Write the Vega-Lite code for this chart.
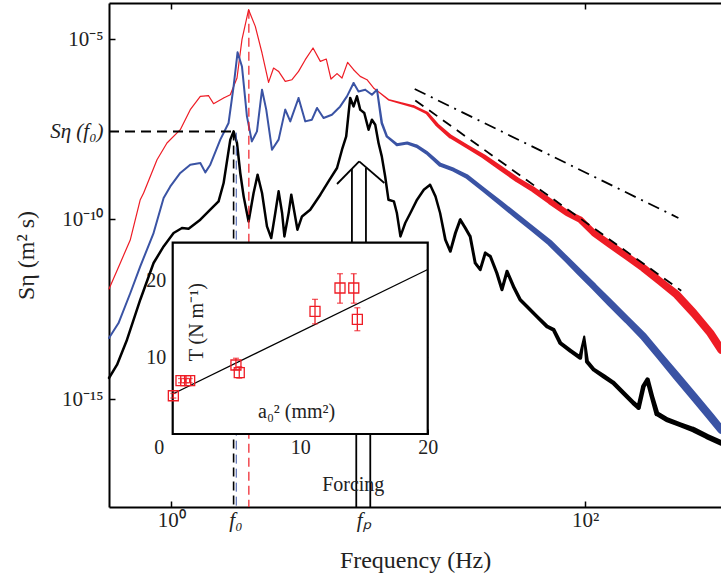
{
  "$schema": "https://vega.github.io/schema/vega-lite/v6.json",
  "width": 612,
  "height": 504,
  "autosize": {"type": "none"},
  "padding": {"left": 109, "top": 3, "right": 0, "bottom": 73},
  "background": "white",
  "config": {
    "font": "Liberation Serif",
    "view": {"stroke": null},
    "axis": {"labelFont": "Liberation Serif", "titleFont": "Liberation Serif", "labelColor": "#222", "titleColor": "#222", "tickColor": "black", "domainColor": "black", "grid": false, "titleFontWeight": "normal", "labelFlush": false, "labelOverlap": false}
  },
  "datasets": {
    "spectra": [
      {"s":"red","f":0.5,"S":1.14e-12,"w":1.2},{"s":"red","f":0.567,"S":6.0e-12,"w":1.2},{"s":"red","f":0.634,"S":2.66e-11,"w":1.2},{"s":"red","f":0.708,"S":3.44e-10,"w":1.2},{"s":"red","f":0.735,"S":5.27e-10,"w":1.2},{"s":"red","f":0.853,"S":4.44e-9,"w":1.2},{"s":"red","f":0.953,"S":1.29e-8,"w":1.2},{"s":"red","f":1.105,"S":3.03e-8,"w":1.2},{"s":"red","f":1.235,"S":1.09e-7,"w":1.2},{"s":"red","f":1.381,"S":2.55e-7,"w":1.2},{"s":"red","f":1.514,"S":2.66e-7,"w":1.2},{"s":"red","f":1.6,"S":1.6e-7,"w":1.2},{"s":"red","f":1.79,"S":2.3e-7,"w":1.2},{"s":"red","f":1.928,"S":2.84e-7,"w":1.2},{"s":"red","f":2.077,"S":8.26e-7,"w":1.2},{"s":"red","f":2.195,"S":9.57e-6,"w":1.2},{"s":"red","f":2.363,"S":6.52e-5,"w":1.2},{"s":"red","f":2.546,"S":2.24e-5,"w":1.2},{"s":"red","f":2.744,"S":4.08e-6,"w":1.2},{"s":"red","f":2.951,"S":6.23e-7,"w":1.2},{"s":"red","f":3.12,"S":1.56e-6,"w":1.2},{"s":"red","f":3.3,"S":1.26e-6,"w":1.2},{"s":"red","f":3.553,"S":6.64e-7,"w":1.2},{"s":"red","f":3.83,"S":7.4e-7,"w":1.2},{"s":"red","f":4.12,"S":1.26e-6,"w":1.2},{"s":"red","f":4.44,"S":2.66e-6,"w":1.2},{"s":"red","f":4.84,"S":5.62e-6,"w":1.2},{"s":"red","f":5.25,"S":2.39e-6,"w":1.2},{"s":"red","f":5.61,"S":2.78e-6,"w":1.2},{"s":"red","f":5.91,"S":7.74e-7,"w":1.2},{"s":"red","f":6.32,"S":1.09e-6,"w":1.2},{"s":"red","f":6.68,"S":8.26e-7,"w":1.2},{"s":"red","f":7.11,"S":2.24e-6,"w":1.2},{"s":"red","f":7.6,"S":1.4e-6,"w":1.2},{"s":"red","f":8.18,"S":9.14e-7,"w":1.2},{"s":"red","f":8.82,"S":7.4e-7,"w":1.2},{"s":"red","f":9.49,"S":4.36e-7,"w":1.2},{"s":"red","f":10.2,"S":3.16e-7,"w":1.3},{"s":"red","f":11.2,"S":2.06e-7,"w":1.5},{"s":"red","f":12.8,"S":1.67e-7,"w":2},{"s":"red","f":14.8,"S":1.34e-7,"w":2.5},{"s":"red","f":17.2,"S":8.8e-8,"w":3},{"s":"red","f":19.2,"S":4.16e-8,"w":3.5},{"s":"red","f":22.3,"S":1.97e-8,"w":4},{"s":"red","f":26.8,"S":1.04e-8,"w":4},{"s":"red","f":32.3,"S":5.48e-9,"w":4.5},{"s":"red","f":38.9,"S":2.61e-9,"w":5},{"s":"red","f":46.8,"S":1.24e-9,"w":5},{"s":"red","f":56.3,"S":6.52e-10,"w":5.5},{"s":"red","f":67.7,"S":3.08e-10,"w":6},{"s":"red","f":81.6,"S":1.47e-10,"w":6},{"s":"red","f":94.6,"S":9.57e-11,"w":6.5},{"s":"red","f":110,"S":4.08e-11,"w":6.5},{"s":"red","f":132,"S":1.93e-11,"w":7},{"s":"red","f":159,"S":9.14e-12,"w":7},{"s":"red","f":191,"S":4.36e-12,"w":7.5},{"s":"red","f":230,"S":1.85e-12,"w":7.5},{"s":"red","f":277,"S":7.89e-13,"w":8},{"s":"red","f":334,"S":2.45e-13,"w":8},{"s":"red","f":402,"S":6.81e-14,"w":8},{"s":"red","f":454,"S":2.34e-14,"w":8},
      {"s":"blue","f":0.5,"S":4.94e-14,"w":2},{"s":"blue","f":0.556,"S":1.29e-13,"w":2},{"s":"blue","f":0.634,"S":8.8e-13,"w":2},{"s":"blue","f":0.708,"S":4.82e-12,"w":2},{"s":"blue","f":0.821,"S":4.08e-11,"w":2},{"s":"blue","f":0.918,"S":3.83e-10,"w":2},{"s":"blue","f":0.989,"S":8.05e-10,"w":2},{"s":"blue","f":1.105,"S":1.9e-9,"w":2},{"s":"blue","f":1.235,"S":3.22e-9,"w":2},{"s":"blue","f":1.381,"S":3.6e-9,"w":2},{"s":"blue","f":1.46,"S":1.97e-9,"w":2},{"s":"blue","f":1.543,"S":3.22e-9,"w":2},{"s":"blue","f":1.725,"S":1.6e-8,"w":2},{"s":"blue","f":1.891,"S":4.64e-8,"w":2},{"s":"blue","f":2.0,"S":4.82e-7,"w":2},{"s":"blue","f":2.09,"S":4.25e-6,"w":2},{"s":"blue","f":2.195,"S":1.73e-6,"w":2},{"s":"blue","f":2.32,"S":7.08e-8,"w":2},{"s":"blue","f":2.45,"S":1.43e-8,"w":2},{"s":"blue","f":2.594,"S":2.71e-8,"w":2},{"s":"blue","f":2.744,"S":3.91e-7,"w":2},{"s":"blue","f":2.876,"S":1.09e-7,"w":2},{"s":"blue","f":3.065,"S":8.41e-9,"w":2},{"s":"blue","f":3.3,"S":1.6e-8,"w":2},{"s":"blue","f":3.553,"S":1.09e-7,"w":2},{"s":"blue","f":3.757,"S":5.14e-8,"w":2},{"s":"blue","f":4.12,"S":2.3e-7,"w":2},{"s":"blue","f":4.44,"S":5.14e-8,"w":2},{"s":"blue","f":4.78,"S":5.73e-8,"w":2},{"s":"blue","f":5.06,"S":1.21e-7,"w":2},{"s":"blue","f":5.44,"S":6.4e-8,"w":2},{"s":"blue","f":5.97,"S":7.89e-8,"w":2},{"s":"blue","f":6.55,"S":1.34e-7,"w":2},{"s":"blue","f":7.06,"S":2.55e-7,"w":2},{"s":"blue","f":7.6,"S":6.0e-7,"w":2},{"s":"blue","f":8.03,"S":3.5e-7,"w":2},{"s":"blue","f":8.65,"S":3.91e-7,"w":2},{"s":"blue","f":9.32,"S":2.84e-7,"w":2},{"s":"blue","f":9.86,"S":3.91e-7,"w":2},{"s":"blue","f":10.4,"S":4.64e-8,"w":2.5},{"s":"blue","f":11.0,"S":1.97e-8,"w":2.5},{"s":"blue","f":12.3,"S":1.16e-8,"w":3},{"s":"blue","f":13.8,"S":1.29e-8,"w":3},{"s":"blue","f":15.4,"S":1.04e-8,"w":3.5},{"s":"blue","f":17.2,"S":6.81e-9,"w":3.5},{"s":"blue","f":19.9,"S":3.22e-9,"w":4},{"s":"blue","f":23.1,"S":2.34e-9,"w":4},{"s":"blue","f":26.8,"S":1.52e-9,"w":4.5},{"s":"blue","f":32.3,"S":6.52e-10,"w":4.5},{"s":"blue","f":38.9,"S":2.78e-10,"w":5},{"s":"blue","f":46.8,"S":1.18e-10,"w":5.5},{"s":"blue","f":56.3,"S":5.05e-11,"w":5.5},{"s":"blue","f":67.7,"S":2.15e-11,"w":6},{"s":"blue","f":81.6,"S":7.4e-12,"w":6},{"s":"blue","f":94.6,"S":3.16e-12,"w":6.5},{"s":"blue","f":110,"S":1.34e-12,"w":6.5},{"s":"blue","f":132,"S":4.64e-13,"w":7},{"s":"blue","f":159,"S":1.6e-13,"w":7},{"s":"blue","f":191,"S":5.48e-14,"w":7.5},{"s":"blue","f":230,"S":1.53e-14,"w":7.5},{"s":"blue","f":277,"S":4.25e-15,"w":8},{"s":"blue","f":334,"S":1.18e-15,"w":8},{"s":"blue","f":402,"S":3.29e-16,"w":8},{"s":"blue","f":454,"S":1.4e-16,"w":8},
      {"s":"black","f":0.5,"S":3.83e-15,"w":2.5},{"s":"black","f":0.547,"S":8.97e-15,"w":2.5},{"s":"black","f":0.611,"S":4.44e-14,"w":2.5},{"s":"black","f":0.708,"S":5.73e-13,"w":2.5},{"s":"black","f":0.821,"S":6.0e-12,"w":2.5},{"s":"black","f":0.918,"S":1.73e-11,"w":2.5},{"s":"black","f":1.026,"S":4.08e-11,"w":2.5},{"s":"black","f":1.127,"S":5.62e-11,"w":2.5},{"s":"black","f":1.212,"S":5.38e-11,"w":2.5},{"s":"black","f":1.381,"S":9.57e-11,"w":2.5},{"s":"black","f":1.543,"S":1.81e-10,"w":2.5},{"s":"black","f":1.692,"S":3.08e-10,"w":2.5},{"s":"black","f":1.79,"S":1.0e-9,"w":2.5},{"s":"black","f":1.928,"S":1.6e-8,"w":2.5},{"s":"black","f":2.0,"S":2.71e-8,"w":2.5},{"s":"black","f":2.077,"S":1.29e-8,"w":2.5},{"s":"black","f":2.154,"S":1.9e-9,"w":2.5},{"s":"black","f":2.236,"S":4.25e-10,"w":2.5},{"s":"black","f":2.363,"S":8.57e-11,"w":2.5},{"s":"black","f":2.498,"S":5.27e-10,"w":2.5},{"s":"black","f":2.612,"S":1.7e-9,"w":2.5},{"s":"black","f":2.744,"S":5.27e-10,"w":2.5},{"s":"black","f":2.899,"S":6.23e-11,"w":2.5},{"s":"black","f":3.04,"S":2.97e-11,"w":2.5},{"s":"black","f":3.18,"S":1.47e-10,"w":2.5},{"s":"black","f":3.3,"S":5.85e-10,"w":2.5},{"s":"black","f":3.43,"S":1.47e-10,"w":2.5},{"s":"black","f":3.52,"S":3.29e-11,"w":2.5},{"s":"black","f":3.69,"S":1.47e-10,"w":2.5},{"s":"black","f":3.8,"S":4.73e-10,"w":2.5},{"s":"black","f":3.94,"S":1.47e-10,"w":2.5},{"s":"black","f":4.07,"S":5.05e-11,"w":2.5},{"s":"black","f":4.28,"S":1.18e-10,"w":2.5},{"s":"black","f":4.69,"S":1.81e-10,"w":2.5},{"s":"black","f":5.25,"S":4.73e-10,"w":2.5},{"s":"black","f":5.75,"S":1.11e-9,"w":2.5},{"s":"black","f":6.32,"S":2.61e-9,"w":2.5},{"s":"black","f":6.68,"S":8.41e-9,"w":2.5},{"s":"black","f":7.0,"S":1.97e-8,"w":2.5},{"s":"black","f":7.19,"S":8.8e-8,"w":2.5},{"s":"black","f":7.32,"S":2.3e-7,"w":2.5},{"s":"black","f":7.6,"S":1.34e-7,"w":2.5},{"s":"black","f":7.89,"S":2.55e-7,"w":2.5},{"s":"black","f":8.18,"S":1.09e-7,"w":2.5},{"s":"black","f":8.56,"S":8.8e-8,"w":2.5},{"s":"black","f":8.98,"S":3.03e-8,"w":2.5},{"s":"black","f":9.32,"S":5.73e-8,"w":2.5},{"s":"black","f":9.67,"S":4.16e-8,"w":2.5},{"s":"black","f":10.03,"S":1.29e-8,"w":2.5},{"s":"black","f":10.4,"S":5.48e-9,"w":2.5},{"s":"black","f":10.8,"S":1.52e-9,"w":2.5},{"s":"black","f":11.2,"S":3.44e-10,"w":2.5},{"s":"black","f":11.9,"S":3.08e-10,"w":2.5},{"s":"black","f":12.3,"S":1.47e-10,"w":2.5},{"s":"black","f":12.8,"S":3.29e-11,"w":2.5},{"s":"black","f":13.5,"S":7.74e-11,"w":2.5},{"s":"black","f":14.3,"S":1.47e-10,"w":2.5},{"s":"black","f":15.4,"S":3.44e-10,"w":2.5},{"s":"black","f":16.6,"S":6.52e-10,"w":2.5},{"s":"black","f":17.8,"S":8.97e-10,"w":2.5},{"s":"black","f":18.9,"S":4.25e-10,"w":2.5},{"s":"black","f":19.9,"S":1.47e-10,"w":2.5},{"s":"black","f":21.1,"S":2.66e-11,"w":2.8},{"s":"black","f":22.3,"S":1.26e-11,"w":2.8},{"s":"black","f":23.6,"S":4.08e-11,"w":3},{"s":"black","f":24.9,"S":9.57e-11,"w":3},{"s":"black","f":26.3,"S":5.73e-11,"w":3},{"s":"black","f":27.8,"S":3.29e-11,"w":3},{"s":"black","f":29.4,"S":6.0e-12,"w":3},{"s":"black","f":31.1,"S":3.91e-12,"w":3},{"s":"black","f":32.9,"S":1.14e-11,"w":3},{"s":"black","f":34.8,"S":9.14e-12,"w":3},{"s":"black","f":37.4,"S":3.16e-12,"w":3.2},{"s":"black","f":39.6,"S":1.09e-12,"w":3.2},{"s":"black","f":41.9,"S":3.5e-12,"w":3.2},{"s":"black","f":45.0,"S":1.34e-12,"w":3.4},{"s":"black","f":48.5,"S":5.73e-13,"w":3.5},{"s":"black","f":52.3,"S":3.73e-13,"w":3.5},{"s":"black","f":58.4,"S":1.97e-13,"w":3.5},{"s":"black","f":65.3,"S":1.04e-13,"w":3.8},{"s":"black","f":70.3,"S":8.41e-14,"w":3.8},{"s":"black","f":75.7,"S":3.6e-14,"w":4},{"s":"black","f":84.6,"S":2.2e-14,"w":4},{"s":"black","f":94.6,"S":1.4e-14,"w":4},{"s":"black","f":98.9,"S":5.48e-14,"w":2},{"s":"black","f":102,"S":1.09e-14,"w":4},{"s":"black","f":110,"S":6.52e-15,"w":4},{"s":"black","f":123,"S":4.25e-15,"w":4.5},{"s":"black","f":137,"S":2.78e-15,"w":4.5},{"s":"black","f":153,"S":1.47e-15,"w":4.5},{"s":"black","f":171,"S":7.74e-16,"w":4.5},{"s":"black","f":181,"S":5.73e-16,"w":4.5},{"s":"black","f":191,"S":2.24e-15,"w":4.5},{"s":"black","f":200,"S":3.44e-15,"w":4.5},{"s":"black","f":210,"S":1.18e-15,"w":4.5},{"s":"black","f":222,"S":3.91e-16,"w":5},{"s":"black","f":248,"S":2.66e-16,"w":5},{"s":"black","f":288,"S":1.93e-16,"w":5},{"s":"black","f":334,"S":1.4e-16,"w":5.5},{"s":"black","f":387,"S":9.14e-17,"w":5.5},{"s":"black","f":454,"S":6.0e-17,"w":5.5}
    ],
    "slopes": [
      {"k":"dd","f":15.0,"S":4.08e-7},{"k":"dd","f":282,"S":1.07e-10},
      {"k":"d","f":15.1,"S":1.97e-7},{"k":"d","f":291,"S":1.02e-12}
    ],
    "f0lines": [
      {"c":"black","f":2.0,"S":2.71e-8,"S2":1e-18,"w":1.6},
      {"c":"blue","f":2.06,"S":2.5e-8,"S2":1e-18,"w":1},
      {"c":"red","f":2.37,"S":6.5e-5,"S2":1e-18,"w":1.2}
    ],
    "forcing": [
      {"f":6.32,"S":9.38e-10,"f2":8.09,"S2":3.98e-9},
      {"f":8.09,"S":3.98e-9,"f2":10.7,"S2":1.0e-9},
      {"f":7.46,"S":2.45e-9,"f2":7.46,"S2":1e-12},
      {"f":8.72,"S":2.61e-9,"f2":8.72,"S2":1e-12},
      {"f":7.83,"S":1e-15,"f2":7.83,"S2":1e-18},
      {"f":9.15,"S":1e-15,"f2":9.15,"S2":1e-18}
    ],
    "points": [
      {"a":0.05,"T":5.0,"lo":4.7,"hi":5.3},
      {"a":0.65,"T":6.97,"lo":6.7,"hi":7.25},
      {"a":1.02,"T":6.97,"lo":6.7,"hi":7.25},
      {"a":1.33,"T":6.97,"lo":6.7,"hi":7.25},
      {"a":4.96,"T":9.02,"lo":8.4,"hi":9.9},
      {"a":5.22,"T":8.01,"lo":7.3,"hi":8.8},
      {"a":11.16,"T":16.03,"lo":14.4,"hi":17.6},
      {"a":13.12,"T":19.08,"lo":17.1,"hi":20.95},
      {"a":14.2,"T":19.08,"lo":17.1,"hi":20.95},
      {"a":14.48,"T":14.99,"lo":13.5,"hi":16.5}
    ]
  },
  "layer": [
    {
      "layer": [
        {
          "data": {"name": "spectra"},
          "mark": {"type": "trail"},
          "encoding": {
            "x": {"field": "f", "type": "quantitative", "scale": {"type": "log", "domain": [0.5, 453], "nice": false},
              "axis": {"orient": "bottom", "values": [1, 2.04, 8.46, 100],
                "labelExpr": "datum.value == 1 ? '10⁰' : datum.value == 100 ? '10²' : datum.value < 3 ? 'f₀' : 'fₚ'",
                "labelFontSize": 21,
                "labelFontStyle": {"condition": {"test": "datum.value > 1.5 && datum.value < 50", "value": "italic"}, "value": "normal"},
                "tickOpacity": {"condition": {"test": "datum.value > 1.5 && datum.value < 50", "value": 0}, "value": 1},
                "tickSize": -6, "tickWidth": 1.5, "domainWidth": 2, "labelPadding": 8,
                "title": "Frequency (Hz)", "titleFontSize": 24, "titlePadding": 18}},
            "y": {"field": "S", "type": "quantitative", "scale": {"type": "log", "domain": [1e-18, 1e-4], "nice": false},
              "axis": {"orient": "left", "values": [1e-15, 1e-10, 2.713e-8, 1e-5],
                "labelExpr": "datum.value < 1e-12 ? '10⁻¹⁵' : datum.value < 1e-9 ? '10⁻¹⁰' : datum.value < 1e-6 ? 'Sη (f₀)' : '10⁻⁵'",
                "labelFontSize": 21,
                "labelFontStyle": {"condition": {"test": "datum.value > 1e-9 && datum.value < 1e-6", "value": "italic"}, "value": "normal"},
                "tickOpacity": {"condition": {"test": "datum.value > 1e-9 && datum.value < 1e-6", "value": 0}, "value": 1},
                "tickSize": -6, "tickWidth": 1.5, "domainWidth": 2, "labelPadding": 12,
                "title": "Sη (m² s)", "titleFontSize": 24, "titlePadding": 11}},
            "size": {"field": "w", "type": "quantitative", "scale": null},
            "color": {"field": "s", "type": "nominal", "scale": {"domain": ["red", "blue", "black"], "range": ["#ee1c25", "#3a53a4", "#000000"]}, "legend": null},
            "order": {"field": "f", "type": "quantitative"}
          }
        },
        {
          "data": {"values": [{"f": 0.5, "f2": 1.97, "S": 2.713e-8}]},
          "mark": {"type": "rule", "strokeDash": [10, 6], "strokeWidth": 2, "color": "black"},
          "encoding": {
            "x": {"field": "f", "type": "quantitative", "axis": null},
            "x2": {"field": "f2"},
            "y": {"field": "S", "type": "quantitative", "axis": null}
          }
        },
        {
          "data": {"name": "f0lines"},
          "mark": {"type": "rule", "strokeDash": [9, 5]},
          "encoding": {
            "x": {"field": "f", "type": "quantitative", "axis": null},
            "y": {"field": "S", "type": "quantitative", "axis": null},
            "y2": {"field": "S2"},
            "strokeWidth": {"field": "w", "type": "quantitative", "scale": null},
            "color": {"field": "c", "type": "nominal", "scale": {"domain": ["red", "blue", "black"], "range": ["#ee1c25", "#3a53a4", "#000000"]}, "legend": null}
          }
        },
        {
          "data": {"name": "slopes"},
          "mark": {"type": "line", "strokeWidth": 1.8, "color": "black"},
          "encoding": {
            "x": {"field": "f", "type": "quantitative",
              "axis": {"orient": "top", "values": [1, 100], "labels": false, "tickSize": -6, "tickWidth": 1.5, "domainWidth": 2, "title": null}},
            "y": {"field": "S", "type": "quantitative",
              "axis": {"orient": "right", "labels": false, "ticks": false, "domain": false, "title": null}},
            "detail": {"field": "k"},
            "strokeDash": {"field": "k", "type": "nominal", "scale": {"domain": ["dd", "d"], "range": [[12, 6, 2, 6], [10, 7]]}, "legend": null}
          }
        },
        {
          "data": {"name": "forcing"},
          "mark": {"type": "rule", "strokeWidth": 1.8, "color": "black"},
          "encoding": {
            "x": {"field": "f", "type": "quantitative", "axis": null},
            "x2": {"field": "f2"},
            "y": {"field": "S", "type": "quantitative", "axis": null},
            "y2": {"field": "S2"}
          }
        },
        {
          "data": {"values": [{"f": 7.57, "S": 4.16e-18, "t": "Forcing"}]},
          "mark": {"type": "text", "fontSize": 20, "font": "Liberation Serif", "color": "#222", "baseline": "middle", "align": "center"},
          "encoding": {
            "x": {"field": "f", "type": "quantitative", "axis": null},
            "y": {"field": "S", "type": "quantitative", "axis": null},
            "text": {"field": "t"}
          }
        }
      ]
    },
    {
      "layer": [
        {
          "data": {"values": [{"a": 0, "a2": 20, "T": 0, "T2": 25}]},
          "mark": {"type": "rect", "fill": "white", "stroke": "black", "strokeWidth": 2.2},
          "encoding": {
            "x": {"field": "a", "type": "quantitative", "scale": {"domain": [-4.996, 43.0], "nice": false, "zero": false},
              "axis": {"orient": "bottom", "offset": -73, "values": [0, 10, 20], "labelFontSize": 20, "tickSize": -5, "domain": false, "labelPadding": 8, "title": null,
                "labelOffset": {"condition": {"test": "datum.value == 0", "value": -14}, "value": 0}}},
            "x2": {"field": "a2"},
            "y": {"field": "T", "type": "quantitative", "scale": {"domain": [-9.54, 56.33], "nice": false, "zero": false},
              "axis": {"orient": "left", "offset": -63.7, "values": [10, 20], "labelFontSize": 20, "tickSize": -5, "domain": false, "labelPadding": 12, "title": null}},
            "y2": {"field": "T2"}
          }
        },
        {
          "data": {"values": [{"a": 0, "T": 5.23}, {"a": 20, "T": 21.5}]},
          "mark": {"type": "line", "color": "black", "strokeWidth": 1.3},
          "encoding": {
            "x": {"field": "a", "type": "quantitative",
              "axis": {"orient": "top", "offset": -239.7, "values": [10], "labels": false, "tickSize": -5, "domain": false, "title": null}},
            "y": {"field": "T", "type": "quantitative",
              "axis": {"orient": "right", "offset": -293.3, "values": [10, 20], "labels": false, "tickSize": -5, "domain": false, "title": null}}
          }
        },
        {
          "data": {"name": "points"},
          "mark": {"type": "rule", "color": "#ee1c25", "strokeWidth": 1.3},
          "encoding": {
            "x": {"field": "a", "type": "quantitative", "axis": null},
            "y": {"field": "lo", "type": "quantitative", "axis": null},
            "y2": {"field": "hi"}
          }
        },
        {
          "data": {"name": "points"},
          "mark": {"type": "tick", "color": "#ee1c25", "size": 6, "thickness": 1.3, "orient": "horizontal"},
          "encoding": {
            "x": {"field": "a", "type": "quantitative", "axis": null},
            "y": {"field": "lo", "type": "quantitative", "axis": null}
          }
        },
        {
          "data": {"name": "points"},
          "mark": {"type": "tick", "color": "#ee1c25", "size": 6, "thickness": 1.3, "orient": "horizontal"},
          "encoding": {
            "x": {"field": "a", "type": "quantitative", "axis": null},
            "y": {"field": "hi", "type": "quantitative", "axis": null}
          }
        },
        {
          "data": {"name": "points"},
          "mark": {"type": "point", "shape": "square", "size": 100, "filled": false, "color": "#ee1c25", "strokeWidth": 1.3, "opacity": 1},
          "encoding": {
            "x": {"field": "a", "type": "quantitative", "axis": null},
            "y": {"field": "T", "type": "quantitative", "axis": null}
          }
        },
        {
          "data": {"values": [{"a": 1.88, "T": 14.6, "t": "T (N m⁻¹)", "ang": 270}, {"a": 9.72, "T": 2.9, "t": "a₀² (mm²)", "ang": 0}]},
          "mark": {"type": "text", "fontSize": 20, "font": "Liberation Serif", "color": "#222", "baseline": "middle", "align": "center"},
          "encoding": {
            "x": {"field": "a", "type": "quantitative", "axis": null},
            "y": {"field": "T", "type": "quantitative", "axis": null},
            "text": {"field": "t"},
            "angle": {"field": "ang", "type": "quantitative", "scale": null}
          }
        }
      ]
    }
  ],
  "resolve": {"scale": {"x": "independent", "y": "independent"}}
}
